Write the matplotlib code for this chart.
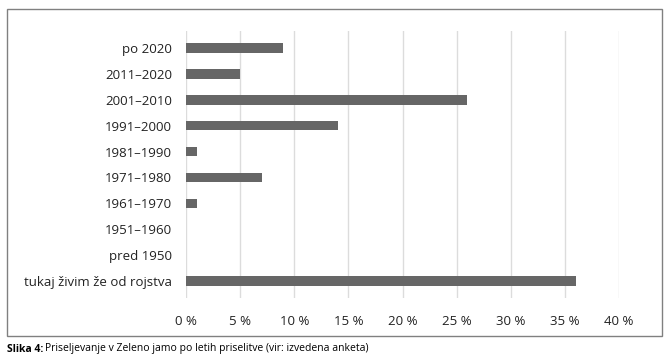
import matplotlib.pyplot as plt
from matplotlib.patches import Rectangle

# Data
labels = [
    "po 2020",
    "2011–2020",
    "2001–2010",
    "1991–2000",
    "1981–1990",
    "1971–1980",
    "1961–1970",
    "1951–1960",
    "pred 1950",
    "tukaj živim že od rojstva",
]
values = [9, 5, 26, 14, 1, 7, 1, 0, 0, 36]
ticks = [0, 5, 10, 15, 20, 25, 30, 35, 40]

plt.rcParams["font.family"] = ["Open Sans", "DejaVu Sans"]

fig = plt.figure(figsize=(6.71, 3.58), dpi=100)
ax = fig.add_axes([186 / 671, 1 - 298 / 358, (619 - 186) / 671, (298 - 31) / 358])

ax.barh(labels, values, height=0.37, color="#666666", zorder=3)
ax.invert_yaxis()
ax.set_xlim(0, 40)
ax.set_xticks(ticks)
ax.set_xticklabels([f"{t} %" for t in ticks], fontsize=9.5, color="#222222")
ax.tick_params(axis="y", labelsize=9.5, labelcolor="#222222", length=0, pad=10)
ax.tick_params(axis="x", length=0, pad=12)
ax.grid(axis="x", color="#dcdcdc", linewidth=1, zorder=0)
for s in ax.spines.values():
    s.set_visible(False)

# outer frame
fig.patches.append(Rectangle((7 / 671, 1 - 336 / 358), (662 - 7) / 671, (336 - 9) / 358,
                             transform=fig.transFigure, fill=False,
                             edgecolor="#808080", linewidth=1))

# caption
fig.text(7 / 671, 1 - 349 / 358, "Slika 4:", fontsize=7.5, fontweight="bold",
         va="center", ha="left")
fig.text(45 / 671, 1 - 349 / 358,
         "Priseljevanje v Zeleno jamo po letih priselitve (vir: izvedena anketa)",
         fontsize=7.5, va="center", ha="left")

plt.savefig("out.png", dpi=100)
